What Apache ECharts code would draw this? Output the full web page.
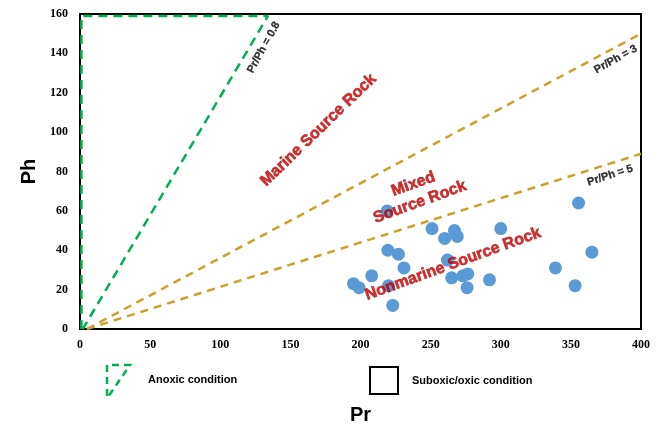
<!DOCTYPE html>
<html>
<head>
<meta charset="utf-8">
<script src="https://cdn.jsdelivr.net/npm/echarts@6/dist/echarts.min.js"></script>
<style>
  html, body { margin: 0; padding: 0; background: #fff; }
  #chart { width: 670px; height: 430px; }
</style>
</head>
<body>
<div id="chart"></div>
<script>
// Pr vs Ph samples
const prValues = [219, 251, 260, 267, 269, 300, 219.5, 227, 231, 208, 195, 199, 223, 220,
                  262, 265, 273, 276.5, 276, 292, 355.5, 365, 339, 353];
const phValues = [60, 51, 46, 50, 47, 51, 40, 38, 31, 27, 23, 21, 12, 22,
                  35, 26, 27, 28, 21, 25, 64, 39, 31, 22];

// boundary lines (Pr, Ph)
const anoxicLine = [[1, 0], [1, 159], [134, 159], [2, 0]];
const ratio3Line = [[5, 0], [400, 150]];
const ratio5Line = [[5, 0], [400, 89]];

// annotations: [Pr, Ph, text, rotation]
const regionLabels = [
    [170, 101, 'Marine Source Rock', 44],
    [240, 69, 'Mixed\nSource Rock', 20],
    [266, 33, 'Nonmarine Source Rock', 20]
];
const ratioLabels = [
    [131, 143, 'Pr/Ph = 0.8', 61],
    [382, 137, 'Pr/Ph = 3', 29],
    [378, 78, 'Pr/Ph = 5', 18]
];

const FONT = '"Liberation Sans", Arial, sans-serif';
const GOLD = '#C9A12B';
const GREEN = '#00B050';

const chart = echarts.init(document.getElementById('chart'));

const textItems = (list, style) => list.map(([x, y, text, rot]) => ({
    value: [x, y],
    label: Object.assign({ formatter: text, rotate: rot }, style)
}));

chart.setOption({
    animation: false,
    grid: { left: 80, right: 29, top: 14, bottom: 99, show: true, borderColor: '#000', borderWidth: 2 },
    xAxis: {
        type: 'value', min: 0, max: 400, interval: 50,
        name: 'Pr', nameLocation: 'middle', nameGap: 76,
        nameTextStyle: { fontFamily: FONT, fontSize: 20, fontWeight: 'bold', color: '#000' },
        axisLine: { lineStyle: { color: '#000', width: 2 } },
        axisTick: { show: false },
        splitLine: { show: false },
        axisLabel: { fontFamily: '"Liberation Serif", serif', fontWeight: 'bold', fontSize: 12, color: '#000', margin: 10 }
    },
    yAxis: {
        type: 'value', min: 0, max: 160, interval: 20,
        name: 'Ph', nameLocation: 'middle', nameGap: 40,
        nameTextStyle: { fontFamily: FONT, fontSize: 20, fontWeight: 'bold', color: '#000' },
        axisLine: { lineStyle: { color: '#000', width: 2 } },
        axisTick: { show: false },
        splitLine: { show: false },
        axisLabel: { fontFamily: '"Liberation Serif", serif', fontWeight: 'bold', fontSize: 12, color: '#000', margin: 12 }
    },
    series: [
        {
            type: 'line', data: anoxicLine, symbol: 'none', silent: true,
            lineStyle: { color: GREEN, width: 2.5, type: [9, 6] }
        },
        {
            type: 'line', data: ratio3Line, symbol: 'none', silent: true,
            lineStyle: { color: GOLD, width: 2.5, type: [8, 6] }
        },
        {
            type: 'line', data: ratio5Line, symbol: 'none', silent: true,
            lineStyle: { color: GOLD, width: 2.5, type: [8, 6] }
        },
        {
            type: 'scatter', symbolSize: 13,
            data: prValues.map((x, i) => [x, phValues[i]]),
            itemStyle: { color: '#5B9BD5', opacity: 1 },
            z: 3
        },
        {
            type: 'scatter', symbolSize: 0, silent: true, z: 5,
            data: textItems(regionLabels, {
                show: true, position: 'inside', color: '#C00000',
                fontFamily: FONT, fontSize: 16, fontWeight: 'bold', lineHeight: 19,
                textBorderColor: '#C00000', textBorderWidth: 0.6
            })
        },
        {
            type: 'scatter', symbolSize: 0, silent: true, z: 5,
            data: textItems(ratioLabels, {
                show: true, position: 'inside', color: '#000',
                fontFamily: FONT, fontSize: 11, fontWeight: 'bold',
                textBorderColor: '#000', textBorderWidth: 0.3
            })
        }
    ],
    graphic: [
        { type: 'polyline', shape: { points: [[107, 396], [107, 365], [130, 365], [108, 397]] },
          style: { stroke: GREEN, lineWidth: 2.5, lineDash: [7, 5], fill: null } },
        { type: 'text', left: 148, top: 374,
          style: { text: 'Anoxic condition', font: 'bold 11px ' + FONT, fill: '#000' } },
        { type: 'rect', shape: { x: 370, y: 367, width: 28, height: 27 },
          style: { stroke: '#000', lineWidth: 2, fill: '#fff' } },
        { type: 'text', left: 412, top: 375,
          style: { text: 'Suboxic/oxic condition', font: 'bold 11px ' + FONT, fill: '#000' } }
    ]
});
</script>
</body>
</html>
